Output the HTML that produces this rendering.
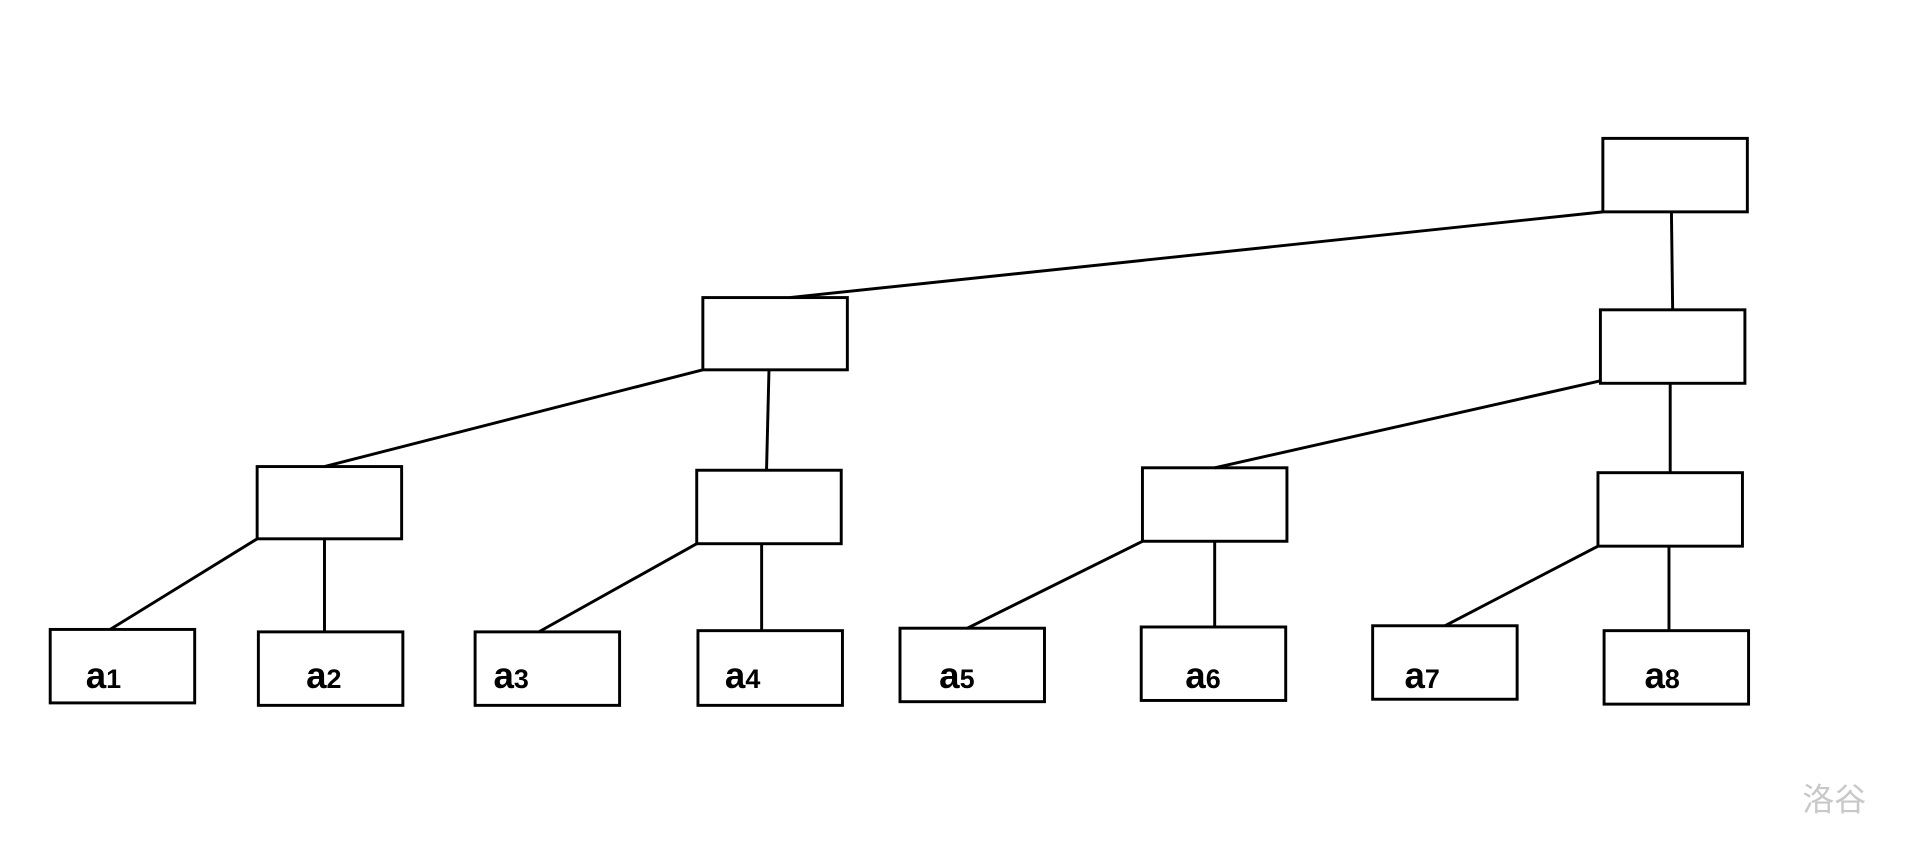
<!DOCTYPE html>
<html><head><meta charset="utf-8"><style>
html,body{margin:0;padding:0;background:#fff;width:1920px;height:855px;overflow:hidden}
svg{display:block}
</style></head><body>
<svg width="1920" height="855" viewBox="0 0 1568 698.2" preserveAspectRatio="none" xmlns="http://www.w3.org/2000/svg">
<g fill="none" stroke="#000" stroke-width="2.4">
<rect x="1309" y="113" width="118" height="60"/>
<rect x="574" y="243" width="118" height="59"/>
<rect x="1307" y="253" width="118" height="60"/>
<rect x="210" y="381" width="118" height="59"/>
<rect x="569" y="384" width="118" height="60"/>
<rect x="933" y="382" width="118" height="60"/>
<rect x="1305" y="386" width="118" height="60"/>
<rect x="41" y="514" width="118" height="60"/>
<rect x="211" y="516" width="118" height="60"/>
<rect x="388" y="516" width="118" height="60"/>
<rect x="570" y="515" width="118" height="61"/>
<rect x="735" y="513" width="118" height="60"/>
<rect x="932" y="512" width="118" height="60"/>
<rect x="1121" y="511" width="118" height="60"/>
<rect x="1310" y="515" width="118" height="60"/>
<line x1="1309" y1="173" x2="645" y2="243"/>
<line x1="1365" y1="173" x2="1366" y2="253"/>
<line x1="574" y1="302" x2="265" y2="381"/>
<line x1="628" y1="302" x2="626" y2="384"/>
<line x1="1307" y1="311" x2="992" y2="382"/>
<line x1="1364" y1="313" x2="1364" y2="386"/>
<line x1="210" y1="440" x2="90" y2="514"/>
<line x1="265" y1="440" x2="265" y2="516"/>
<line x1="569" y1="444" x2="440" y2="516"/>
<line x1="622" y1="444" x2="622" y2="515"/>
<line x1="933" y1="442" x2="790" y2="513"/>
<line x1="992" y1="442" x2="992" y2="512"/>
<line x1="1305" y1="446" x2="1180" y2="511"/>
<line x1="1363" y1="446" x2="1363" y2="515"/>
</g>
<g font-family="Liberation Sans, sans-serif" font-size="30" font-weight="bold" fill="#000">
<text x="70" y="562">a<tspan font-size="22">1</tspan></text>
<text x="250" y="562">a<tspan font-size="22">2</tspan></text>
<text x="403" y="562">a<tspan font-size="22">3</tspan></text>
<text x="592" y="562">a<tspan font-size="22">4</tspan></text>
<text x="767" y="562">a<tspan font-size="22">5</tspan></text>
<text x="968" y="562">a<tspan font-size="22">6</tspan></text>
<text x="1147" y="562">a<tspan font-size="22">7</tspan></text>
<text x="1343" y="562">a<tspan font-size="22">8</tspan></text>
</g>
<text x="1472" y="662" font-family="Liberation Sans, Noto Sans CJK SC, sans-serif" font-size="26" fill="#c8c8c8">洛谷</text>
</svg>
</body></html>
